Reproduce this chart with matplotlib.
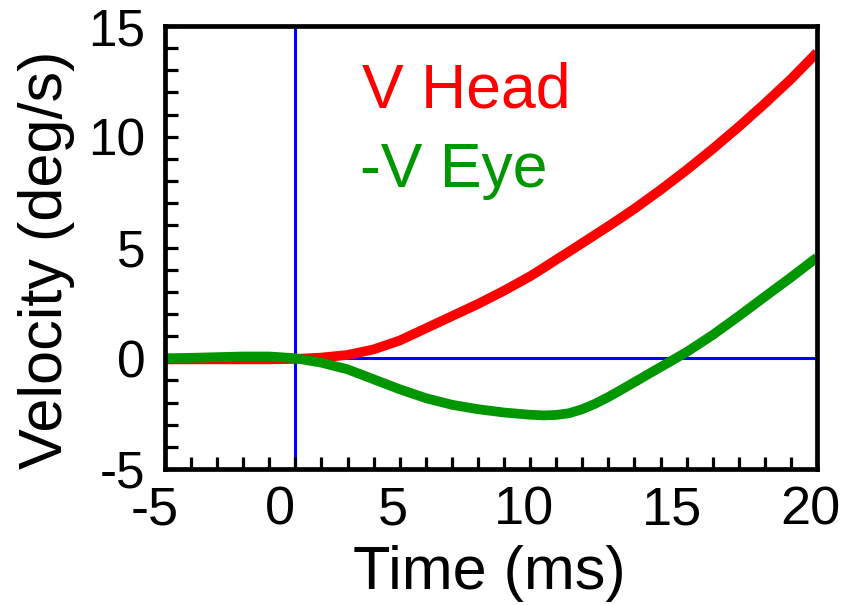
import matplotlib
matplotlib.use("Agg")
import matplotlib.pyplot as plt
from matplotlib.ticker import MultipleLocator, FixedLocator
from matplotlib.transforms import ScaledTranslation

plt.rcParams['font.family'] = ['Liberation Sans', 'DejaVu Sans']
plt.rcParams['axes.unicode_minus'] = False

# Data
time_ms = [-5, -4, -3, -2, -1, 0, 1, 2, 3, 4, 5, 6, 7, 8, 9, 9.5, 10, 10.5,
           11, 11.5, 12, 12.5, 13, 14, 15, 16, 17, 18, 19, 20]
v_head = [-0.05, -0.05, -0.05, -0.05, -0.05, -0.03, 0.03, 0.15, 0.4, 0.8,
          1.35, 1.9, 2.45, 3.05, 3.7, 4.07, 4.45, 4.82, 5.2, 5.58, 5.96, 6.35,
          6.75, 7.6, 8.5, 9.45, 10.45, 11.5, 12.6, 13.8]
v_eye_neg = [0.0, 0.02, 0.05, 0.08, 0.08, 0.0, -0.2, -0.5, -0.95, -1.4,
             -1.8, -2.1, -2.3, -2.45, -2.55, -2.58, -2.56, -2.48, -2.3, -2.05,
             -1.75, -1.42, -1.08, -0.4, 0.28, 1.05, 1.9, 2.78, 3.65, 4.55]
series_labels = ["V Head", "-V Eye"]
x_ticks = [-5, 0, 5, 10, 15, 20]
y_ticks = [-5, 0, 5, 10, 15]
# horizontal nudges (px) of the x tick labels, as placed in the reference
x_label_shift_px = [-10, -15, -33, -32, -15, -7]

RED = '#ff0000'
GREEN = '#009600'
BLUE = '#0000ff'

W, H = 849, 605
fig = plt.figure(figsize=(W / 100, H / 100), dpi=100)
ax = fig.add_axes([165 / W, 1 - 469 / H, (817 - 165) / W, (469 - 26) / H])

ax.set_xlim(-5, 20)
ax.set_ylim(-5, 15)

# reference lines
ax.axvline(0, color=BLUE, lw=2.2, zorder=1)
ax.plot([0, 20], [0, 0], color=BLUE, lw=2.2, zorder=1)

ax.plot(time_ms, v_head, color=RED, lw=7, solid_capstyle='butt',
        solid_joinstyle='round', zorder=3)
ax.plot(time_ms, v_eye_neg, color=GREEN, lw=7, solid_capstyle='butt',
        solid_joinstyle='round', zorder=4)

ax.xaxis.set_major_locator(FixedLocator(x_ticks))
ax.yaxis.set_major_locator(FixedLocator(y_ticks))
ax.xaxis.set_minor_locator(MultipleLocator(1))
ax.yaxis.set_minor_locator(MultipleLocator(1))
ax.set_xticks(x_ticks, [str(v) for v in x_ticks])
ax.set_yticks(y_ticks, [str(v) for v in y_ticks])

ax.tick_params(which='both', direction='in', length=9, width=2.3,
               top=False, right=False, color='black')
ax.tick_params(axis='x', which='major', pad=12, labelsize=39)
ax.tick_params(axis='y', which='major', pad=14, labelsize=37)

for tick, dx in zip(ax.xaxis.get_major_ticks(), x_label_shift_px):
    lab = tick.label1
    lab.set_transform(lab.get_transform() +
                      ScaledTranslation(dx / 100, 0, fig.dpi_scale_trans))

for s in ax.spines.values():
    s.set_linewidth(3.4)
    s.set_zorder(5)

ax.set_xlabel("Time (ms)", fontsize=44)
ax.set_ylabel("Velocity (deg/s)", fontsize=44)
ax.xaxis.set_label_coords(0.498, -0.172)
ax.yaxis.set_label_coords(-0.138, 0.472)

fig.text(362 / W, 1 - 107 / H, series_labels[0], color=RED, fontsize=45,
         va='baseline', ha='left')
fig.text(360 / W, 1 - 187 / H, series_labels[1], color=GREEN, fontsize=45,
         va='baseline', ha='left')

fig.savefig("out.png", dpi=100)
